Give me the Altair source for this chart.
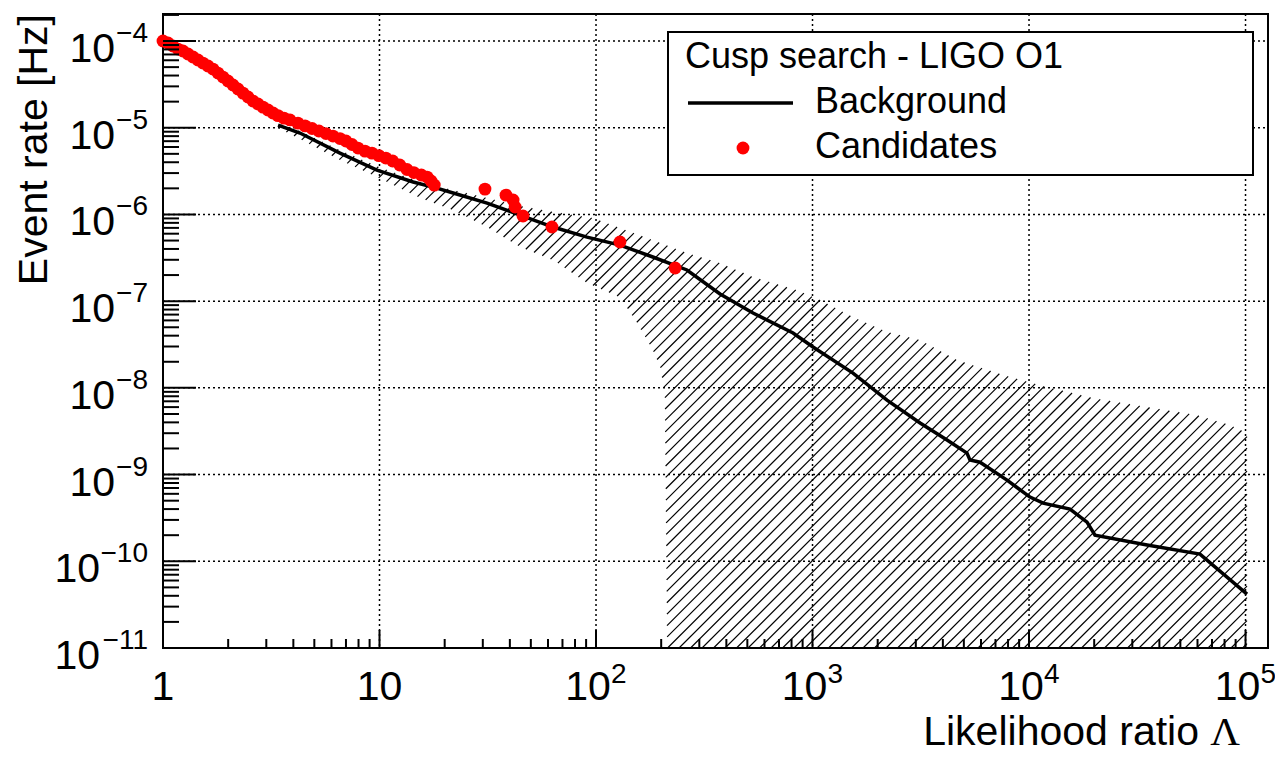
import numpy as np
import pandas as pd
import altair as alt

# ---------------- values ----------------
# Background (expected event rate) curve
bg_lambda = [3.40, 4.29, 6.57, 9.73, 14.3, 18.4, 21.9, 31.4, 44.6, 63.3, 90.9, 129, 183,
             263, 374, 531, 813, 1005, 1538, 2208, 3139, 4181, 5170, 5337, 5937, 7915,
             10100, 11620, 15460, 18530, 20170, 35100, 61600, 101600]
bg_rate = [1.07e-5, 8.69e-6, 5.10e-6, 3.25e-6, 2.37e-6, 2.01e-6, 1.77e-6, 1.35e-6,
           9.84e-7, 7.16e-7, 5.48e-7, 4.43e-7, 3.23e-7, 2.29e-7, 1.21e-7, 7.29e-8,
           4.29e-8, 2.96e-8, 1.48e-8, 7.22e-9, 3.93e-9, 2.50e-9, 1.77e-9, 1.47e-9,
           1.39e-9, 8.64e-10, 5.50e-10, 4.69e-10, 4.00e-10, 2.83e-10, 2.00e-10,
           1.54e-10, 1.21e-10, 4.19e-11]

# Candidates
cand_lambda = [1.00, 1.055, 1.112, 1.173, 1.237, 1.305, 1.376, 1.451, 1.530, 1.614, 1.702,
               1.795, 1.893, 1.996, 2.105, 2.220, 2.342, 2.470, 2.604, 2.747, 2.897, 3.055,
               3.222, 3.398, 3.622, 3.861, 4.20, 4.53, 4.88, 5.25, 5.66, 6.10, 6.57, 7.00,
               7.46, 7.96, 8.57, 9.23, 9.94, 10.7, 11.5, 12.4, 13.4, 14.4, 15.6, 16.6, 17.3,
               17.9, 30.7, 38.4, 41.4, 42.3, 46.0, 62.6, 129, 232]
cand_rate = [1.0e-4, 9.48e-5, 8.76e-5, 8.08e-5, 7.67e-5, 7.08e-5, 6.54e-5, 6.04e-5, 5.57e-5,
             5.15e-5, 4.75e-5, 4.27e-5, 3.84e-5, 3.46e-5, 3.11e-5, 2.80e-5, 2.51e-5,
             2.26e-5, 2.03e-5, 1.88e-5, 1.73e-5, 1.60e-5, 1.48e-5, 1.38e-5, 1.29e-5,
             1.23e-5, 1.13e-5, 1.05e-5, 9.80e-6, 9.17e-6, 8.57e-6, 8.02e-6, 7.50e-6,
             7.03e-6, 6.40e-6, 5.83e-6, 5.38e-6, 5.10e-6, 4.77e-6, 4.47e-6, 4.13e-6,
             3.72e-6, 3.30e-6, 3.04e-6, 2.85e-6, 2.70e-6, 2.43e-6, 2.18e-6, 1.96e-6,
             1.67e-6, 1.47e-6, 1.22e-6, 9.59e-7, 7.16e-7, 4.81e-7, 2.41e-7]

# Uncertainty band (hatched) : upper and lower edges
band_up_lambda = [3.40, 4.29, 6.57, 9.73, 15.4, 21.9, 31.4, 44.6, 63.3, 97, 129, 183, 263, 374,
                  531, 848, 1084, 1538, 2208, 3139, 4647, 7586, 11610, 19770, 35080, 59700,
                  84800, 101600]
band_up_rate = [1.13e-5, 9.17e-6, 5.53e-6, 3.61e-6, 2.37e-6, 1.91e-6, 1.55e-6, 1.25e-6,
                1.07e-6, 9.08e-7, 6.97e-7, 5.07e-7, 3.59e-7, 2.75e-7, 1.90e-7, 1.34e-7,
                1.03e-7, 6.56e-8, 4.41e-8, 3.56e-8, 2.10e-8, 1.41e-8, 1.05e-8, 7.62e-9,
                6.01e-9, 4.85e-9, 3.72e-9, 3.01e-9]
band_lo_lambda = [3.40, 4.29, 6.57, 9.73, 15.4, 21.9, 31.4, 44.6, 63.3, 90.9, 129, 155, 183,
                  198, 208, 215, 101600]
band_lo_rate = [9.93e-6, 7.41e-6, 4.24e-6, 2.70e-6, 1.55e-6, 1.12e-6, 7.16e-7, 4.21e-7,
                2.98e-7, 1.62e-7, 1.11e-7, 5.58e-8, 2.73e-8, 1.74e-8, 8.7e-9, 1e-12, 1e-12]

# Axis ticks and labels
x_major = [1, 10, 100, 1e3, 1e4, 1e5]
x_lab_plain = ["1", "10"]
x_lab_pow_exp = ["2", "3", "4", "5"]
y_major = [1e-4, 1e-5, 1e-6, 1e-7, 1e-8, 1e-9, 1e-10, 1e-11]
y_lab_exp = ["\u22124", "\u22125", "\u22126", "\u22127", "\u22128", "\u22129", "\u221210", "\u221211"]

legend_title = "Cusp search - LIGO O1"
legend_labels = ["Background", "Candidates"]
x_title = "Likelihood ratio"
x_title_sym = "\u039b"
y_title = "Event rate [Hz]"

# ---------------- layout / style ----------------
W, H = 1105, 634
XMIN, XMAX = 1.0, 1.27e5
YMIN, YMAX = 1e-11, 2.05e-4
FONT = "Liberation Sans"
HATCH_PX = 11.5
DOT = 165

LX0, LX1 = np.log10(XMIN), np.log10(XMAX)
LY0, LY1 = np.log10(YMIN), np.log10(YMAX)

xs = alt.Scale(type="log", domain=[XMIN, XMAX], nice=False)
ys = alt.Scale(type="log", domain=[YMIN, YMAX], nice=False)


def hatch_segments():
    ux, uy = np.log10(band_up_lambda), np.log10(band_up_rate)
    lx, ly = np.log10(band_lo_lambda), np.log10(band_lo_rate)
    a, b = max(ux[0], lx[0]), min(ux[-1], lx[-1])
    ppx = W / (LX1 - LX0)
    ppy = H / (LY1 - LY0)
    slope = ppx / ppy
    dlx = HATCH_PX / ppx
    span = (LY1 - LY0) / slope
    rows = []
    c = a - span
    while c < b:
        t0, t1 = max(c, a), min(c + span, b)
        if t1 > t0:
            t = np.append(np.arange(t0, t1, 0.0004), t1)
            yl = LY0 + slope * (t - c)
            inside = ((yl <= np.interp(t, ux, uy)) & (yl >= np.interp(t, lx, ly))
                      & (yl >= LY0) & (yl <= LY1))
            edges = np.flatnonzero(np.diff(np.concatenate([[0], inside.astype(int), [0]])))
            for s, e in zip(edges[0::2], edges[1::2]):
                e = e - 1
                if e > s:
                    rows.append({"x": 10 ** t[s], "y": 10 ** yl[s],
                                 "x2": 10 ** t[e], "y2": 10 ** yl[e]})
        c += dlx
    return pd.DataFrame(rows)


one = pd.DataFrame({"d": [0]})

# grid
grid_x = alt.Chart(pd.DataFrame({"v": x_major[1:]})).mark_rule(
    color="black", strokeWidth=1.5, strokeDash=[2, 3]).encode(
    x=alt.X("v:Q", scale=xs, axis=None), y=alt.value(0), y2=alt.value(H))
grid_y = alt.Chart(pd.DataFrame({"v": y_major[:-1]})).mark_rule(
    color="black", strokeWidth=1.5, strokeDash=[2, 3]).encode(
    y=alt.Y("v:Q", scale=ys, axis=None), x=alt.value(0), x2=alt.value(W))

# ticks (inside the frame)
x_minor = [m * 10 ** k for k in range(0, 6) for m in range(2, 10) if m * 10 ** k <= XMAX]
y_minor = [m * 10.0 ** k for k in range(-11, -3) for m in range(2, 10) if m * 10.0 ** k <= YMAX]
xt_maj = alt.Chart(pd.DataFrame({"v": x_major})).mark_rule(color="black", strokeWidth=2).encode(
    x=alt.X("v:Q", scale=xs, axis=None), y=alt.value(H), y2=alt.value(H - 18))
xt_min = alt.Chart(pd.DataFrame({"v": x_minor})).mark_rule(color="black", strokeWidth=2).encode(
    x=alt.X("v:Q", scale=xs, axis=None), y=alt.value(H), y2=alt.value(H - 9))
yt_maj = alt.Chart(pd.DataFrame({"v": y_major})).mark_rule(color="black", strokeWidth=2).encode(
    y=alt.Y("v:Q", scale=ys, axis=None), x=alt.value(0), x2=alt.value(33))
yt_min = alt.Chart(pd.DataFrame({"v": y_minor})).mark_rule(color="black", strokeWidth=2).encode(
    y=alt.Y("v:Q", scale=ys, axis=None), x=alt.value(0), x2=alt.value(16))

# hatched band
hatch = alt.Chart(hatch_segments()).mark_rule(color="black", strokeWidth=1.2, clip=True).encode(
    x=alt.X("x:Q", scale=xs, axis=None), y=alt.Y("y:Q", scale=ys, axis=None),
    x2="x2:Q", y2="y2:Q")

# background line
bg = alt.Chart(pd.DataFrame({"lam": bg_lambda, "rate": bg_rate})).mark_line(
    color="black", strokeWidth=3.5, clip=True).encode(
    x=alt.X("lam:Q", scale=xs, axis=None), y=alt.Y("rate:Q", scale=ys, axis=None))

# candidates
cand = alt.Chart(pd.DataFrame({"lam": cand_lambda, "rate": cand_rate})).mark_circle(
    color="#ff0000", size=DOT, opacity=1).encode(
    x=alt.X("lam:Q", scale=xs, axis=None), y=alt.Y("rate:Q", scale=ys, axis=None))

# axis labels
xl_plain = alt.Chart(pd.DataFrame({"v": x_major[:2], "t": x_lab_plain})).mark_text(
    font=FONT, fontSize=41, align="center", baseline="alphabetic").encode(
    x=alt.X("v:Q", scale=xs, axis=None), y=alt.value(H + 52), text="t:N")
xl_base = alt.Chart(pd.DataFrame({"v": x_major[2:], "t": ["10"] * 4})).mark_text(
    font=FONT, fontSize=41, align="center", baseline="alphabetic", dx=-8).encode(
    x=alt.X("v:Q", scale=xs, axis=None), y=alt.value(H + 52), text="t:N")
xl_exp = alt.Chart(pd.DataFrame({"v": x_major[2:], "t": x_lab_pow_exp})).mark_text(
    font=FONT, fontSize=28, align="left", baseline="alphabetic", dx=15).encode(
    x=alt.X("v:Q", scale=xs, axis=None), y=alt.value(H + 35), text="t:N")

yl_exp = alt.Chart(pd.DataFrame({"v": y_major, "t": y_lab_exp})).mark_text(
    font=FONT, fontSize=28, align="right", baseline="alphabetic", dy=1).encode(
    y=alt.Y("v:Q", scale=ys, axis=None), x=alt.value(-15), text="t:N")
yl_base2 = alt.Chart(pd.DataFrame({"v": y_major[:6], "t": ["10"] * 6})).mark_text(
    font=FONT, fontSize=41, align="right", baseline="alphabetic", dy=21).encode(
    y=alt.Y("v:Q", scale=ys, axis=None), x=alt.value(-48), text="t:N")
yl_base3 = alt.Chart(pd.DataFrame({"v": y_major[6:], "t": ["10"] * 2})).mark_text(
    font=FONT, fontSize=41, align="right", baseline="alphabetic", dy=21).encode(
    y=alt.Y("v:Q", scale=ys, axis=None), x=alt.value(-63), text="t:N")

# axis titles
xt_title = alt.Chart(one).mark_text(font=FONT, fontSize=41, align="right",
                                    baseline="alphabetic").encode(
    x=alt.value(1036), y=alt.value(H + 97), text=alt.value(x_title))
xt_sym = alt.Chart(one).mark_text(font="Liberation Serif", fontSize=41, align="right",
                                  baseline="alphabetic").encode(
    x=alt.value(1077), y=alt.value(H + 97), text=alt.value(x_title_sym))
yt_title = alt.Chart(one).mark_text(font=FONT, fontSize=41, align="right",
                                    baseline="alphabetic", angle=270).encode(
    x=alt.value(-116), y=alt.value(0), text=alt.value(y_title))

# legend
leg_box = alt.Chart(one).mark_rect(fill="white", stroke="black", strokeWidth=2).encode(
    x=alt.value(505), x2=alt.value(1090), y=alt.value(18), y2=alt.value(161))
leg_title = alt.Chart(one).mark_text(font=FONT, fontSize=36, align="left",
                                     baseline="alphabetic").encode(
    x=alt.value(522), y=alt.value(54), text=alt.value(legend_title))
leg_line = alt.Chart(one).mark_rule(color="black", strokeWidth=3.5).encode(
    x=alt.value(525), x2=alt.value(630), y=alt.value(89))
leg_dot = alt.Chart(one).mark_circle(color="#ff0000", size=DOT, opacity=1).encode(
    x=alt.value(580), y=alt.value(134))
leg_t1 = alt.Chart(one).mark_text(font=FONT, fontSize=36, align="left",
                                  baseline="alphabetic").encode(
    x=alt.value(652), y=alt.value(99), text=alt.value(legend_labels[0]))
leg_t2 = alt.Chart(one).mark_text(font=FONT, fontSize=36, align="left",
                                  baseline="alphabetic").encode(
    x=alt.value(652), y=alt.value(144), text=alt.value(legend_labels[1]))

chart = alt.layer(
    grid_x, grid_y, hatch, bg, cand, xt_maj, xt_min, yt_maj, yt_min,
    xl_plain, xl_base, xl_exp, yl_exp, yl_base2, yl_base3,
    xt_title, xt_sym, yt_title,
    leg_box, leg_title, leg_line, leg_dot, leg_t1, leg_t2,
).properties(
    width=W, height=H,
    padding={"left": 155, "top": 6, "right": 7, "bottom": 110},
    autosize=alt.AutoSizeParams(type="none"),
    background="white",
).configure_view(stroke="black", strokeWidth=2)

chart.save("out.html", embed_options={"renderer": "svg", "actions": False})
